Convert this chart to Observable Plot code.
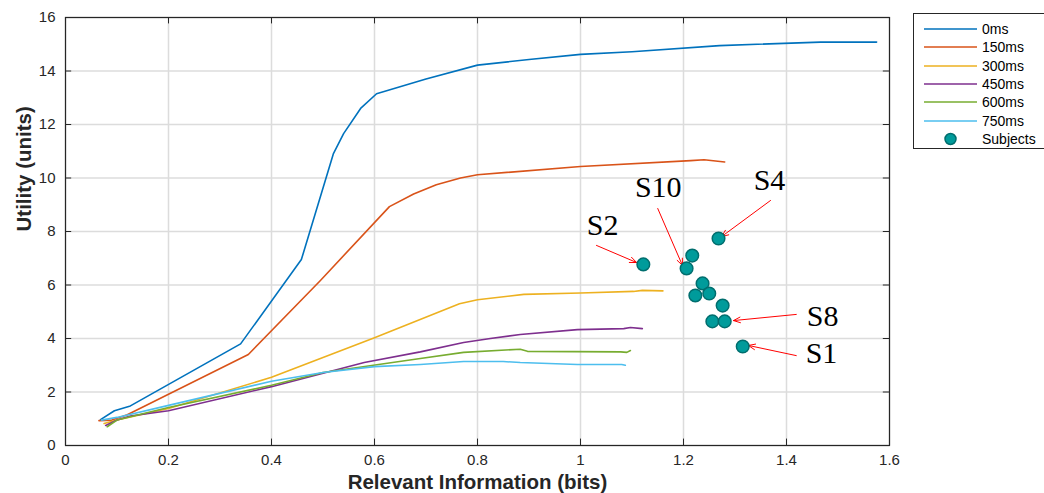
<!DOCTYPE html>
<html>
<head>
<meta charset="utf-8">
<script src="https://cdn.jsdelivr.net/npm/d3@7"></script>
<script src="https://cdn.jsdelivr.net/npm/@observablehq/plot@0.6"></script>
<style>
  html, body { margin: 0; padding: 0; background: #fff; overflow: hidden; }
  #wrap { position: relative; width: 1044px; height: 493px; }
  #legend { position: absolute; left: 913px; top: 13px; width: 140px; height: 136px;
    border: 1px solid #262626; background: #fff; font-family: "Liberation Sans", Arial, sans-serif;
    font-size: 14px; color: #000; box-sizing: border-box; }
  .row { position: absolute; left: 0; height: 18px; display: flex; align-items: center; }
  .row svg { margin-left: 10px; margin-right: 5px; }
</style>
</head>
<body>
<div id="wrap"><div id="chart"></div><div id="legend"></div></div>
<script>
// ---- data ----
const seriesNames = ["0ms", "150ms", "300ms", "450ms", "600ms", "750ms"];
const seriesColors = ["#0072BD", "#D95319", "#EDB120", "#7E2F8E", "#77AC30", "#4DBEEE"];

const x0ms = [0.068, 0.095, 0.126, 0.34, 0.458, 0.52, 0.54, 0.573, 0.604, 0.7, 0.8, 0.9, 1.0, 1.1, 1.27, 1.466, 1.575];
const y0ms = [0.97, 1.3, 1.48, 3.8, 6.95, 10.9, 11.66, 12.6, 13.15, 13.7, 14.22, 14.43, 14.62, 14.72, 14.95, 15.08, 15.08];

const x150ms = [0.065, 0.09, 0.12, 0.355, 0.495, 0.629, 0.676, 0.72, 0.767, 0.8, 1.0, 1.214, 1.24, 1.28];
const y150ms = [0.93, 0.95, 1.15, 3.4, 6.17, 8.93, 9.4, 9.75, 10.0, 10.12, 10.43, 10.65, 10.68, 10.6];

const x300ms = [0.075, 0.1, 0.2, 0.4, 0.6, 0.765, 0.8, 0.89, 1.0, 1.103, 1.12, 1.16];
const y300ms = [0.82, 0.95, 1.38, 2.55, 4.03, 5.3, 5.45, 5.65, 5.7, 5.76, 5.8, 5.78];

const x450ms = [0.078, 0.1, 0.126, 0.2, 0.4, 0.58, 0.689, 0.773, 0.825, 0.883, 0.994, 1.084, 1.097, 1.12];
const y450ms = [0.75, 0.95, 1.1, 1.3, 2.2, 3.1, 3.5, 3.85, 4.0, 4.15, 4.33, 4.37, 4.41, 4.37];

const x600ms = [0.081, 0.1, 0.2, 0.4, 0.5, 0.689, 0.773, 0.883, 0.897, 1.078, 1.09, 1.097];
const y600ms = [0.7, 0.95, 1.42, 2.25, 2.73, 3.25, 3.48, 3.6, 3.52, 3.5, 3.48, 3.55];

const x750ms = [0.07, 0.1, 0.2, 0.4, 0.5, 0.6, 0.689, 0.773, 0.85, 0.883, 0.994, 1.08, 1.087];
const y750ms = [0.95, 1.05, 1.5, 2.4, 2.73, 2.95, 3.03, 3.14, 3.14, 3.1, 3.03, 3.03, 3.0];

const subjectX = [1.122, 1.217, 1.206, 1.268, 1.237, 1.223, 1.25, 1.276, 1.256, 1.28, 1.315];
const subjectY = [6.77, 7.1, 6.62, 7.74, 6.06, 5.61, 5.68, 5.23, 4.64, 4.64, 3.7];

const labelNames = ["S2", "S10", "S4", "S8", "S1"];
const labelX = [1.043, 1.151, 1.367, 1.47, 1.468];
const labelY = [8.22, 9.64, 9.9, 4.82, 3.44];
const arrowX1 = [1.031, 1.150, 1.369, 1.419, 1.419];
const arrowY1 = [7.48, 8.86, 9.16, 4.90, 3.36];
const arrowX2 = [1.109, 1.198, 1.274, 1.297, 1.326];
const arrowY2 = [6.84, 6.73, 7.81, 4.67, 3.74];

const xTicks = [0, 0.2, 0.4, 0.6, 0.8, 1, 1.2, 1.4, 1.6];
const yTicks = [0, 2, 4, 6, 8, 10, 12, 14, 16];
const xTitle = "Relevant Information (bits)";
const yTitle = "Utility (units)";
const subjectsLabel = "Subjects";

// ---- build tables ----
const seriesX = [x0ms, x150ms, x300ms, x450ms, x600ms, x750ms];
const seriesY = [y0ms, y150ms, y300ms, y450ms, y600ms, y750ms];
const lineRows = seriesNames.flatMap((name, i) => seriesX[i].map((x, j) => ({series: name, x, y: seriesY[i][j]})));
const subjects = subjectX.map((x, i) => ({x, y: subjectY[i]}));
const labels = labelNames.map((t, i) => ({t, x: labelX[i], y: labelY[i], x1: arrowX1[i], y1: arrowY1[i], x2: arrowX2[i], y2: arrowY2[i]}));

const ink = "#262626";
const chart = Plot.plot({
  width: 1044, height: 493,
  marginLeft: 65, marginRight: 155, marginTop: 17, marginBottom: 48,
  style: {fontFamily: "Liberation Sans, Arial, sans-serif", fontSize: "15px", color: ink, background: "#fff"},
  x: {domain: [0, 1.6]},
  y: {domain: [0, 16]},
  color: {domain: seriesNames, range: seriesColors},
  marks: [
    Plot.gridX(xTicks, {stroke: "#dcdcdc", strokeOpacity: 1, strokeWidth: 1.5}),
    Plot.gridY(yTicks, {stroke: "#dcdcdc", strokeOpacity: 1, strokeWidth: 1.5}),
    Plot.axisX(xTicks, {tickSize: 0, tickPadding: 9, tickFormat: d => String(d), label: null, fontSize: 15, fill: ink}),
    Plot.axisY(yTicks, {tickSize: 0, tickPadding: 10, tickFormat: d => String(d), label: null, fontSize: 15, fill: ink}),
    Plot.ruleX(xTicks, {x: d => d, y1: 0, y2: 0.24, stroke: ink, strokeWidth: 1}),
    Plot.ruleX(xTicks, {x: d => d, y1: 16, y2: 15.76, stroke: ink, strokeWidth: 1}),
    Plot.ruleY(yTicks, {y: d => d, x1: 0, x2: 0.012, stroke: ink, strokeWidth: 1}),
    Plot.ruleY(yTicks, {y: d => d, x1: 1.6, x2: 1.588, stroke: ink, strokeWidth: 1}),
    Plot.line(lineRows, {x: "x", y: "y", z: "series", stroke: "series", strokeWidth: 1.6}),
    Plot.arrow(labels, {x1: "x1", y1: "y1", x2: "x2", y2: "y2", stroke: "#ff0000", strokeWidth: 1, headLength: 11, headAngle: 45}),
    Plot.dot(subjects, {x: "x", y: "y", r: 6.3, fill: "#009b9b", stroke: "#006e6e", strokeWidth: 1.5}),
    Plot.text(labels, {x: "x", y: "y", text: "t", fontFamily: "Liberation Serif, Times New Roman, serif", fontSize: 30, fill: "#000"}),
    Plot.frame({stroke: ink, strokeWidth: 1.2}),
    Plot.text([xTitle], {frameAnchor: "bottom", text: d => d, dy: 37, fontWeight: "bold", fontSize: 20.5, fill: ink, lineAnchor: "middle"}),
    Plot.text([yTitle], {frameAnchor: "left", text: d => d, dx: -41, rotate: -90, fontWeight: "bold", fontSize: 20.5, fill: ink, lineAnchor: "middle"})
  ]
});
document.getElementById("chart").appendChild(chart);

// ---- legend ----
const legend = document.getElementById("legend");
const entries = seriesNames.map((n, i) => ({label: n, color: seriesColors[i], type: "line"}))
  .concat([{label: subjectsLabel, type: "dot"}]);
entries.forEach((e, i) => {
  const row = document.createElement("div");
  row.className = "row";
  row.style.top = (6 + i * 18.3) + "px";
  const sw = e.type === "line"
    ? `<svg width="53" height="10"><line x1="0" y1="5" x2="53" y2="5" stroke="${e.color}" stroke-width="1.6"/></svg>`
    : `<svg width="53" height="14"><circle cx="26.5" cy="7" r="5.5" fill="#009b9b" stroke="#006e6e" stroke-width="1.5"/></svg>`;
  row.innerHTML = sw + `<span>${e.label}</span>`;
  legend.appendChild(row);
});
</script>
</body>
</html>
